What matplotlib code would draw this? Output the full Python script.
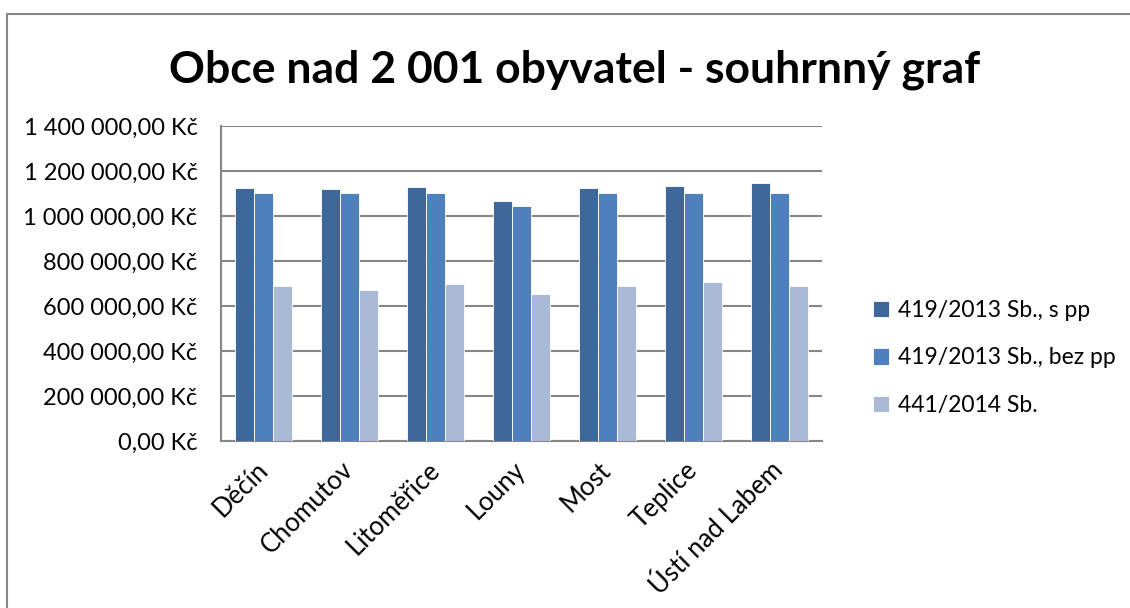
import numpy as np
import matplotlib.pyplot as plt
from matplotlib.patches import Rectangle
from matplotlib.ticker import FuncFormatter

plt.rcParams['font.family'] = ['Lato', 'DejaVu Sans']

# data
cities = ['Děčín', 'Chomutov', 'Litoměřice', 'Louny', 'Most', 'Teplice', 'Ústí nad Labem']
s_pp = [1123000, 1120000, 1129000, 1065000, 1123000, 1132000, 1148000]
bez_pp = [1100000, 1100000, 1100000, 1044000, 1100000, 1100000, 1100000]
sb_441 = [688000, 673000, 700000, 652000, 688000, 707000, 688000]
series_names = ['419/2013 Sb., s pp', '419/2013 Sb., bez pp', '441/2014 Sb.']
colors = ['#3E6899', '#4E80BC', '#AAB9D6']


def kc(v, pos):
    s = f"{v:,.2f}".replace(',', ' ').replace('.', ',')
    return s + ' Kč'


fig = plt.figure(figsize=(11.3, 6.08), dpi=100)
ax = fig.add_axes([221 / 1130, 1 - 441 / 608, (822 - 221) / 1130, (441 - 126) / 608])

# outer chart border
fig.add_artist(Rectangle((7 / 1130, -0.05), 1.1, 1 - 14 / 608 + 0.05,
                         transform=fig.transFigure, fill=False,
                         edgecolor='#868686', linewidth=1.5))

x = np.arange(len(cities))
w = 0.221
for i, vals in enumerate([s_pp, bez_pp, sb_441]):
    ax.bar(x + (i - 1) * w, vals, width=w, color=colors[i],
           edgecolor='white', linewidth=0.6, label=series_names[i], zorder=3)

ax.set_xlim(-0.5, len(cities) - 0.5)
ax.set_ylim(0, 1400000)
ax.set_yticks(np.arange(0, 1400001, 200000))
ax.yaxis.set_major_formatter(FuncFormatter(kc))
ax.grid(axis='y', color='#868686', linewidth=1.5, zorder=0)

for side in ['top', 'right']:
    ax.spines[side].set_visible(False)
for side in ['left', 'bottom']:
    ax.spines[side].set_color('#868686')
    ax.spines[side].set_linewidth(1.5)

ax.tick_params(axis='y', length=0, pad=17, labelsize=17)
ax.tick_params(axis='x', length=0, pad=18, labelsize=18.5)
ax.set_xticks(x)
ax.set_xticklabels(cities, rotation=45, ha='right', va='center', rotation_mode='anchor')

fig.text(575 / 1130, 1 - 70 / 608, 'Obce nad 2 001 obyvatel - souhrnný graf',
         ha='center', va='center', fontsize=32, fontweight='bold')

ax.legend(loc='center left', bbox_to_anchor=(852 / 1130, 1 - 358 / 608),
          bbox_transform=fig.transFigure, frameon=False, fontsize=16.5,
          handlelength=0.7, handleheight=0.7, handletextpad=0.4,
          labelspacing=1.15)

fig.savefig('out.png', dpi=100)
